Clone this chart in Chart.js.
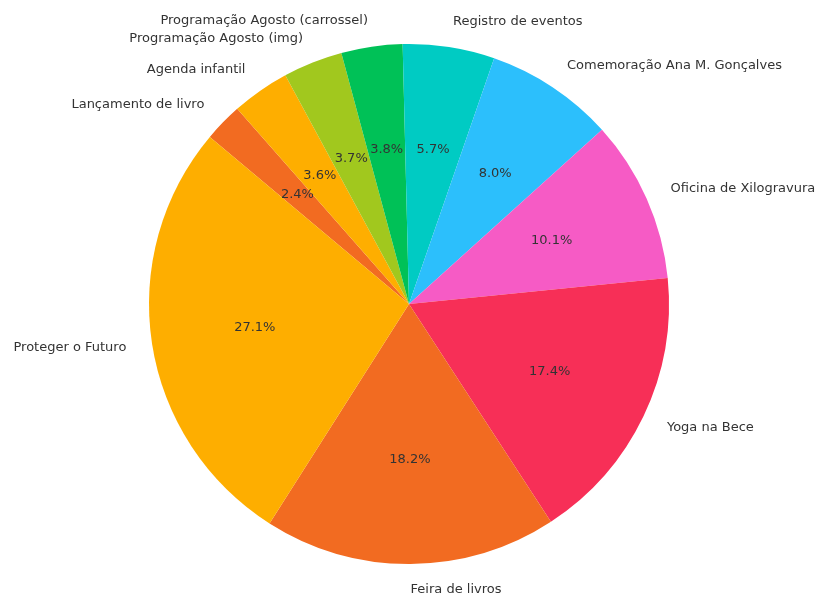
<!DOCTYPE html>
<html>
<head>
<meta charset="utf-8">
<script src="https://cdn.jsdelivr.net/npm/chart.js@4/dist/chart.umd.min.js"></script>
<style>
  html, body { margin: 0; padding: 0; background: #ffffff; }
  #wrap { width: 818px; height: 594px; position: relative; }
</style>
</head>
<body>
<div id="wrap"><canvas id="pie"></canvas></div>
<script>
// Event categories, in counter-clockwise order starting at 140 degrees
const categories = [
  'Proteger o Futuro',
  'Feira de livros',
  'Yoga na Bece',
  'Oficina de Xilogravura',
  'Comemoração Ana M. Gonçalves',
  'Registro de eventos',
  'Programação Agosto (carrossel)',
  'Programação Agosto (img)',
  'Agenda infantil',
  'Lançamento de livro'
];
// Share of each category, in percent
const shares = [27.1, 18.2, 17.4, 10.1, 8.0, 5.7, 3.8, 3.7, 3.6, 2.4];
const sliceColors = [
  '#FEAE00', '#F26B21', '#F72F57', '#F65BC5', '#2CBFFC',
  '#00CBC3', '#00C157', '#A1C81E', '#FEAE00', '#F26B21'
];

// Chart.js sweeps clockwise, so feed the slices in reverse order
const order = categories.map((_, i) => categories.length - 1 - i);
const labels = order.map(i => categories[i]);
const values = order.map(i => shares[i]);
const colors = order.map(i => sliceColors[i]);

const FONT = '13px "DejaVu Sans", sans-serif';
const TEXT_COLOR = '#333333';

// Category names just outside the rim, percentages inside each slice
const sliceLabels = {
  id: 'sliceLabels',
  afterDatasetsDraw(chart) {
    const ctx = chart.ctx;
    const meta = chart.getDatasetMeta(0);
    const data = chart.data.datasets[0].data;
    ctx.save();
    ctx.font = FONT;
    ctx.fillStyle = TEXT_COLOR;
    ctx.textBaseline = 'middle';
    meta.data.forEach((arc, i) => {
      const p = arc.getProps(['x', 'y', 'startAngle', 'endAngle', 'outerRadius'], true);
      const mid = (p.startAngle + p.endAngle) / 2;
      const c = Math.cos(mid), s = Math.sin(mid);
      // outer name
      const lx = p.x + c * p.outerRadius * 1.1;
      const ly = p.y + s * p.outerRadius * 1.1;
      ctx.textAlign = c < 0 ? 'right' : 'left';
      ctx.fillText(chart.data.labels[i], lx, ly);
      // inner percentage
      const px = p.x + c * p.outerRadius * 0.6;
      const py = p.y + s * p.outerRadius * 0.6;
      ctx.textAlign = 'center';
      ctx.fillText(data[i].toFixed(1) + '%', px, py);
    });
    ctx.restore();
  }
};

new Chart(document.getElementById('pie'), {
  type: 'pie',
  data: {
    labels: labels,
    datasets: [{
      data: values,
      backgroundColor: colors,
      borderWidth: 0
    }]
  },
  options: {
    responsive: true,
    maintainAspectRatio: false,
    animation: false,
    rotation: -50,
    layout: { padding: { top: 44, bottom: 30, left: 0, right: 0 } },
    plugins: {
      legend: { display: false },
      tooltip: { enabled: false }
    }
  },
  plugins: [sliceLabels]
});
</script>
</body>
</html>
